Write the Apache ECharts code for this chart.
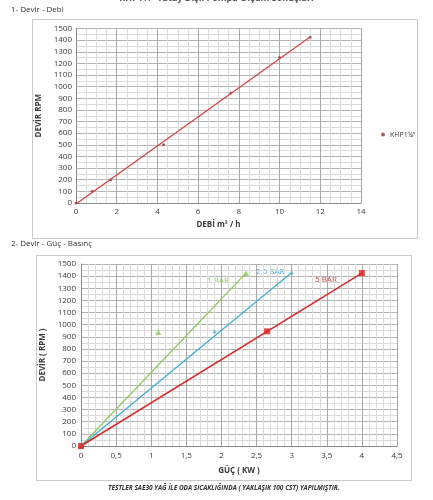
<!DOCTYPE html>
<html><head><meta charset="utf-8">
<script src="https://cdn.jsdelivr.net/npm/echarts@6/dist/echarts.min.js"></script>
<style>html,body{margin:0;padding:0;background:#fff}#c{width:433px;height:500px}</style>
</head><body><div id="c"></div>
<script>
// ---- Data ----
const topTitle = 'KHP1¼" Yatay Dişli Pompa Ölçüm Sonuçları';
const section1 = '1- Devir - Debi';
const section2 = '2- Devir - Güç - Basınç';
const footer = 'TESTLER SAE30 YAĞ İLE ODA SICAKLIĞINDA ( YAKLAŞIK 100 CST) YAPILMIŞTIR.';
const debiSeriesName = 'KHP1¼"';
const debiX = [0, 0.8, 1.7, 4.3, 7.6, 10, 11.5];
const debiRpm = [0, 100, 200, 500, 945, 1250, 1425];
const bar1Kw = [0, 1.1, 2.35];
const bar1Rpm = [0, 940, 1425];
const bar25Kw = [0, 1.9, 3.0];
const bar25Rpm = [0, 945, 1430];
const bar5Kw = [0, 2.65, 4.0];
const bar5Rpm = [0, 945, 1425];
const bar1Name = '1 BAR', bar25Name = '2,5 BAR', bar5Name = '5 BAR';

// linear trendline for top chart (least squares from data)
const n = debiX.length;
const mx = debiX.reduce((a,b)=>a+b,0)/n, my = debiRpm.reduce((a,b)=>a+b,0)/n;
let sxy=0, sxx=0;
for (let i=0;i<n;i++){sxy+=(debiX[i]-mx)*(debiRpm[i]-my);sxx+=(debiX[i]-mx)**2;}
const slope = sxy/sxx, icpt = my - slope*mx;
const xMin = Math.min(...debiX), xMax = Math.max(...debiX);
const trend = [[xMin, slope*xMin+icpt],[xMax, slope*xMax+icpt]];

const pairs = (xs, ys) => xs.map((x,i)=>[x, ys[i]]);
const ends = (xs, ys) => [[xs[0], ys[0]], [xs[xs.length-1], ys[ys.length-1]]];

const FONT = '"Open Sans", "Liberation Sans", sans-serif';
const GREEN = '#8DC95A', BLUE = '#41ABD8', RED = '#D42B2B', TREND = '#D04848';
const lbl = {color:'#3a3a3a', fontSize:8, fontFamily:FONT};
const nameStyle = {color:'#3a3a3a', fontSize:8, fontWeight:'bold', fontFamily:FONT};
const split = {show:true, lineStyle:{color:'#b4b4b4', width:1}};
const minor = {show:true, lineStyle:{color:'#dcdcdc', width:1}};
const axLine = {show:true, lineStyle:{color:'#8a8a8a', width:1}};
const plain = v => String(v);
const comma = v => String(v).replace('.', ',');

const chart = echarts.init(document.getElementById('c'), null, {renderer:'canvas'});
chart.setOption({
  animation:false,
  backgroundColor:'#fff',
  textStyle:{fontFamily:FONT},
  legend:{
    data:[{name:debiSeriesName, icon:'circle'}],
    left:376, top:126, itemWidth:4, itemHeight:4, itemGap:2,
    textStyle:{color:'#3a3a3a', fontSize:7, fontFamily:FONT}
  },
  graphic:[
    {type:'rect', shape:{x:32.5, y:19.5, width:385, height:219}, style:{fill:'none', stroke:'#c8c8c8', lineWidth:1}, z:-1},
    {type:'rect', shape:{x:36.5, y:255.5, width:375, height:225}, style:{fill:'none', stroke:'#c8c8c8', lineWidth:1}, z:-1},
    {type:'text', left:'center', top:-6, style:{text:topTitle, fontSize:9, fontWeight:'bold', fill:'#555', fontFamily:FONT}},
    {type:'text', left:11, top:6, style:{text:section1, fontSize:8, fill:'#333', fontFamily:FONT}},
    {type:'text', left:11, top:240, style:{text:section2, fontSize:8, fill:'#333', fontFamily:FONT}},
    {type:'text', left:108, top:485, style:{text:footer, fontSize:6.5, fontWeight:'bold', fontStyle:'italic', fill:'#333', fontFamily:FONT}},
    {type:'text', left:207, top:277, style:{text:bar1Name, fontSize:8, fill:GREEN, fontFamily:FONT}},
    {type:'text', left:256, top:268, style:{text:bar25Name, fontSize:8, fill:BLUE, fontFamily:FONT}},
    {type:'text', left:315, top:276, style:{text:bar5Name, fontSize:8, fill:'#C84040', fontFamily:FONT}}
  ],
  grid:[
    {left:76, top:28.5, width:285, height:174.5},
    {left:81, top:264, width:316, height:182}
  ],
  xAxis:[
    {type:'value', gridIndex:0, min:0, max:14, interval:2,
     name:'DEBİ m³ / h', nameLocation:'middle', nameGap:18, nameTextStyle:nameStyle,
     axisLine:axLine, axisTick:{show:false}, axisLabel:Object.assign({margin:5, formatter:plain}, lbl),
     splitLine:{show:true, lineStyle:{color:'#a8a8a8'}}, minorTick:{show:false, splitNumber:4}, minorSplitLine:minor},
    {type:'value', gridIndex:1, min:0, max:4.5, interval:0.5,
     name:'GÜÇ ( KW )', nameLocation:'middle', nameGap:21, nameTextStyle:nameStyle,
     axisLine:axLine, axisTick:{show:false},
     axisLabel:Object.assign({margin:6, formatter:comma}, lbl),
     splitLine:{show:true, lineStyle:{color:'#a8a8a8'}}, minorTick:{show:false, splitNumber:5}, minorSplitLine:minor}
  ],
  yAxis:[
    {type:'value', gridIndex:0, min:0, max:1500, interval:100,
     name:'DEVİR RPM', nameLocation:'middle', nameGap:31, nameTextStyle:nameStyle,
     axisLine:axLine, axisTick:{show:false}, axisLabel:Object.assign({margin:4, formatter:plain}, lbl),
     splitLine:split, minorTick:{show:false, splitNumber:2}, minorSplitLine:minor},
    {type:'value', gridIndex:1, min:0, max:1500, interval:100,
     name:'DEVİR ( RPM )', nameLocation:'middle', nameGap:30, nameTextStyle:nameStyle,
     axisLine:axLine, axisTick:{show:false}, axisLabel:Object.assign({margin:5, formatter:plain}, lbl),
     splitLine:split, minorTick:{show:false, splitNumber:2}, minorSplitLine:minor}
  ],
  series:[
    {name:'trend', type:'line', xAxisIndex:0, yAxisIndex:0, data:trend, showSymbol:false, symbol:'none',
     lineStyle:{color:TREND, width:1.3}, clip:true, silent:true},
    {name:debiSeriesName, type:'scatter', xAxisIndex:0, yAxisIndex:0, data:pairs(debiX, debiRpm),
     symbol:'circle', symbolSize:3, itemStyle:{color:'#A03030'}},
    {name:'l1', type:'line', xAxisIndex:1, yAxisIndex:1, data:ends(bar1Kw, bar1Rpm), symbol:'none', lineStyle:{color:GREEN, width:1.3}},
    {name:'l25', type:'line', xAxisIndex:1, yAxisIndex:1, data:ends(bar25Kw, bar25Rpm), symbol:'none', lineStyle:{color:BLUE, width:1.3}},
    {name:'l5', type:'line', xAxisIndex:1, yAxisIndex:1, data:ends(bar5Kw, bar5Rpm), symbol:'none', lineStyle:{color:RED, width:1.5}},
    {name:'m1', type:'scatter', xAxisIndex:1, yAxisIndex:1, data:pairs(bar1Kw, bar1Rpm), symbol:'triangle', symbolSize:6, itemStyle:{color:GREEN}},
    {name:'m25', type:'scatter', xAxisIndex:1, yAxisIndex:1, data:pairs(bar25Kw, bar25Rpm), symbol:'triangle', symbolSize:4, itemStyle:{color:BLUE}},
    {name:'m5', type:'scatter', xAxisIndex:1, yAxisIndex:1, data:pairs(bar5Kw, bar5Rpm), symbol:'rect', symbolSize:6, itemStyle:{color:'#E01818'}}
  ]
});
</script></body></html>
